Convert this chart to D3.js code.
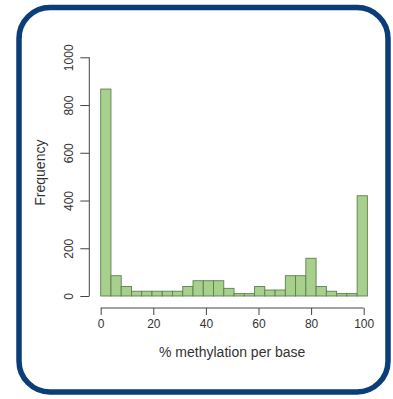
<!DOCTYPE html>
<html>
<head>
<meta charset="utf-8">
<script src="https://cdn.jsdelivr.net/npm/d3@7"></script>
<style>
  html, body { margin: 0; padding: 0; background: #fff; }
  svg { display: block; font-family: "Liberation Sans", Arial, sans-serif; }
</style>
</head>
<body>
<div id="chart"></div>
<script>
// histogram bins (% methylation), lower edges, width ~3.9
const binStarts = [0, 3.9, 7.8, 11.7, 15.6, 19.5, 23.4, 27.3, 31.2, 35.1, 39, 42.9, 46.8,
  50.7, 54.6, 58.5, 62.4, 66.3, 70.2, 74.1, 78, 81.9, 85.8, 89.7, 93.6, 97.5];
const binWidth = 3.9;
const counts = [867, 85, 40, 20, 20, 20, 20, 20, 40, 64, 64, 64, 32,
  10, 10, 40, 25, 25, 85, 85, 158, 40, 20, 10, 10, 420];
const xTicks = [0, 20, 40, 60, 80, 100];
const yTicks = [0, 200, 400, 600, 800, 1000];

const width = 393, height = 399;
const svg = d3.select('#chart').append('svg')
  .attr('width', width)
  .attr('height', height);

// frame
svg.append('rect')
  .attr('x', 19).attr('y', 7.5)
  .attr('width', 369).attr('height', 384.5)
  .attr('rx', 31).attr('ry', 31)
  .attr('fill', '#fff')
  .attr('stroke', '#0b3d78')
  .attr('stroke-width', 5.5);

const x = d3.scaleLinear().domain([0, 100]).range([100.7, 363.7]);
const y = d3.scaleLinear().domain([0, 1000]).range([296, 57.3]);

const bars = binStarts.map((s, i) => ({ x0: s, x1: s + binWidth, n: counts[i] }));

svg.append('g')
  .selectAll('rect')
  .data(bars)
  .join('rect')
  .attr('x', d => x(d.x0))
  .attr('y', d => y(d.n))
  .attr('width', d => x(d.x1) - x(d.x0))
  .attr('height', d => y(0) - y(d.n))
  .attr('fill', '#a7d08c')
  .attr('stroke', '#5f7f50')
  .attr('stroke-width', 0.9);

// x axis (R style, offset below the bars)
const xAxis = svg.append('g')
  .attr('transform', 'translate(0,308)')
  .call(d3.axisBottom(x).tickValues(xTicks).tickFormat(d3.format('d'))
    .tickSize(7).tickPadding(4).tickSizeOuter(0));
xAxis.select('.domain').attr('d', `M${x(0)},0H${x(100)}`).attr('stroke', '#444');
xAxis.selectAll('.tick line').attr('stroke', '#444');
xAxis.selectAll('.tick text').attr('font-size', 12).attr('fill', '#333')
  .attr('font-family', '"Liberation Sans", Arial, sans-serif');

// y axis
const yAxis = svg.append('g')
  .attr('transform', 'translate(89.3,0)')
  .call(d3.axisLeft(y).tickValues(yTicks).tickFormat(d3.format('d'))
    .tickSize(9).tickSizeOuter(0));
yAxis.select('.domain').attr('d', `M0,${y(0)}V${y(1000)}`).attr('stroke', '#444');
yAxis.selectAll('.tick line').attr('stroke', '#444');
yAxis.selectAll('.tick text')
  .attr('font-size', 12).attr('fill', '#333')
  .attr('font-family', '"Liberation Sans", Arial, sans-serif')
  .attr('x', null)
  .attr('text-anchor', 'middle')
  .attr('transform', 'translate(-21,0) rotate(-90)')
  .attr('y', 0).attr('dy', '0.35em');

svg.append('text')
  .attr('x', (x(0) + x(100)) / 2)
  .attr('y', 356.5)
  .attr('text-anchor', 'middle')
  .attr('font-size', 14)
  .attr('fill', '#333')
  .text('% methylation per base');

svg.append('text')
  .attr('transform', `translate(45,${(y(0) + y(1000)) / 2 - 4}) rotate(-90)`)
  .attr('text-anchor', 'middle')
  .attr('font-size', 14)
  .attr('fill', '#333')
  .text('Frequency');
</script>
</body>
</html>
